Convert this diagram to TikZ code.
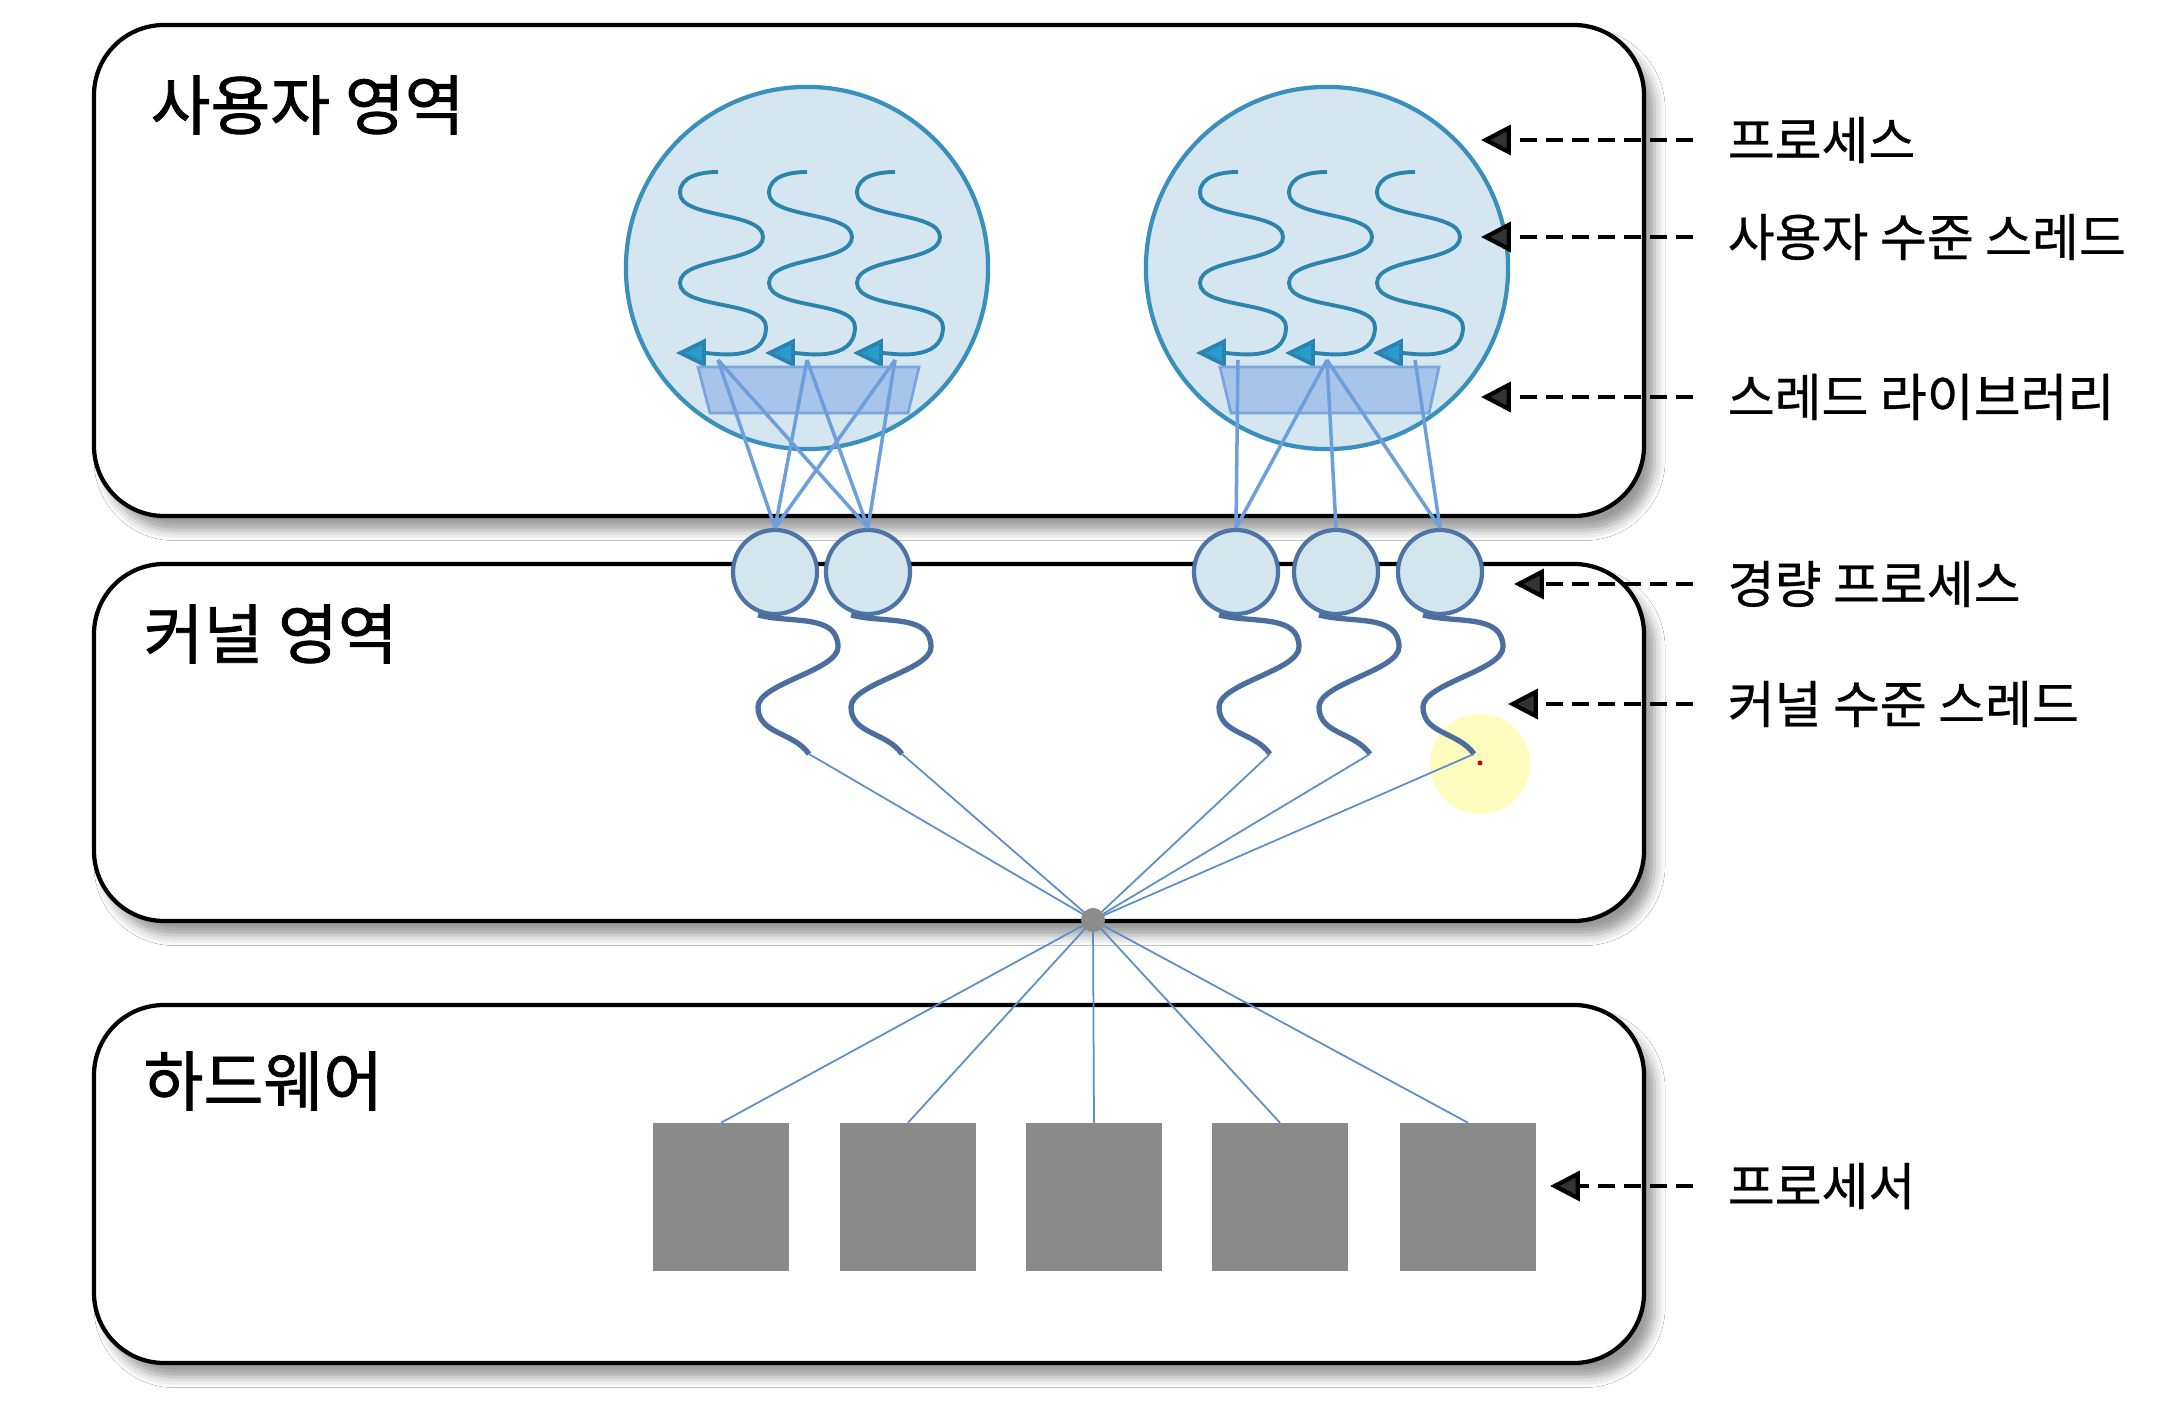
\documentclass[tikz,border=0pt]{standalone}
\usepackage{fontspec}
\newfontfamily\krfont[FakeBold=0.6]{Noto Sans CJK KR}
\newfontfamily\krtitle[FakeBold=1.2]{Noto Sans CJK KR}
\usepackage{tikz}
\usetikzlibrary{arrows.meta, positioning, shadows.blur}
\usepackage{xcolor}

\definecolor{procfill}{HTML}{D6E6F1}
\definecolor{procline}{HTML}{3A90BC}
\definecolor{uthreadc}{HTML}{2B84AE}
\definecolor{utip}{HTML}{2A9BD0}
\definecolor{libfill}{HTML}{A7C5EA}
\definecolor{libline}{HTML}{78A6DD}
\definecolor{linkc}{HTML}{6C9FDC}
\definecolor{lwpfill}{HTML}{D3E6EE}
\definecolor{lwpline}{HTML}{4E74A6}
\definecolor{kthreadc}{HTML}{4B6E9F}
\definecolor{wirec}{HTML}{5C8FC9}
\definecolor{cpugray}{HTML}{8A8A8A}

\begin{document}
\begin{tikzpicture}[
      x=0.01cm, y=0.01cm,
      region/.style={line width=1.2pt, rounded corners=0.7cm, fill=white,
        blur shadow={shadow xshift=3pt, shadow yshift=-4pt, shadow blur radius=3pt, shadow opacity=40}},
      areatitle/.style={anchor=west, inner sep=0, font=\krtitle\fontsize{18.5pt}{22pt}\selectfont},
      note/.style={anchor=west, inner xsep=0.34cm, inner ysep=0, font=\krfont\fontsize{14.5pt}{17pt}\selectfont},
      proc/.style={circle, draw=procline, line width=1.2pt, fill=procfill, minimum size=3.62cm, inner sep=0},
      uline/.style={draw=uthreadc, line width=1.1pt, -{Triangle[length=8.5pt, width=8pt, fill=utip]}},
      lib/.style={draw=libline, line width=0.8pt, fill=libfill},
      link/.style={draw=linkc, line width=1pt},
      lwp/.style={circle, draw=lwpline, line width=1.2pt, fill=lwpfill, minimum size=0.84cm, inner sep=0},
      kline/.style={draw=kthreadc, line width=1.5pt},
      wire/.style={draw=wirec, line width=0.5pt},
      hub/.style={circle, fill=gray!90, minimum size=0.24cm, inner sep=0},
      cpu/.style={rectangle, fill=cpugray, minimum width=1.36cm, minimum height=1.47cm, inner sep=0},
      callout/.style={line width=1.2pt, dash pattern=on 4.8pt off 2.6pt, -{Triangle[length=8.5pt, width=8.5pt]}},
      uthread/.pic={
        \draw[uline] (0,0) to[out=180,in=90] (-38,-21) to[out=-90,in=90,looseness=0.7] (45,-65)
          to[out=-90,in=90,looseness=0.7] (-38,-111) to[out=-90,in=90,looseness=0.7] (48,-155)
          to[out=-90,in=0] (-42,-181);
        \coordinate (-foot) at (0,-188);
      },
      kthread/.pic={
        \draw[kline] (-17,-43) to[out=-15,in=90] (63,-75) to[out=-90,in=90,looseness=0.6] (-17,-135)
          to[out=-90,in=125] (34,-182);
        \coordinate (-end) at (34,-182);
      }
    ]
    \useasboundingbox[fill=white] (0,0) rectangle (2162,1402);

    % Regions
    \draw[region] (94, 886) rectangle (1644, 1377);
    \draw[region] (94, 481) rectangle (1644, 838);
    \draw[region] (94, 39) rectangle (1644, 397);
    \node[areatitle] (usertitle) at (150, 1297) {사용자 영역};
    \node[areatitle] (kerneltitle) at (143, 768) {커널 영역};
    \node[areatitle] (hwtitle) at (143, 321) {하드웨어};

    % Processes and user level threads
    \node[proc] (proc1) at (807, 1134) {};
    \node[proc] (proc2) at (1327, 1134) {};
    \pic (u1) at (718, 1230) {uthread};
    \pic (u2) at (807, 1230) {uthread};
    \pic (u3) at (895, 1230) {uthread};
    \pic (u4) at (1238, 1230) {uthread};
    \pic (u5) at (1327, 1230) {uthread};
    \pic (u6) at (1415, 1230) {uthread};

    % Thread libraries
    \draw[lib] (698, 1035) -- (919, 1035) -- (908, 989) -- (710, 989) -- cycle;
    \draw[lib] (1220, 1035) -- (1439, 1035) -- (1429, 989) -- (1231, 989) -- cycle;

    % Light weight processes
    \node[lwp] (lwp1) at (775, 830) {};
    \node[lwp] (lwp2) at (868, 830) {};
    \node[lwp] (lwp3) at (1236, 830) {};
    \node[lwp] (lwp4) at (1336, 830) {};
    \node[lwp] (lwp5) at (1440, 830) {};

    % Library to LWP
    \draw[link] (u1-foot) -- (lwp1.north);
    \draw[link] (u1-foot) -- (lwp2.north);
    \draw[link] (u2-foot) -- (lwp1.north);
    \draw[link] (u2-foot) -- (lwp2.north);
    \draw[link] (u3-foot) -- (lwp1.north);
    \draw[link] (u3-foot) -- (lwp2.north);
    \draw[link] (u4-foot) -- (lwp3.north);
    \draw[link] (u5-foot) -- (lwp3.north);
    \draw[link] (u5-foot) -- (lwp4.north);
    \draw[link] (u5-foot) -- (lwp5.north);
    \draw[link] (u6-foot) -- (lwp5.north);

    % Kernel level threads
    \fill[yellow!25] (1480, 638) circle (50);
    \pic (k1) at (lwp1.center) {kthread};
    \pic (k2) at (lwp2.center) {kthread};
    \pic (k3) at (lwp3.center) {kthread};
    \pic (k4) at (lwp4.center) {kthread};
    \pic (k5) at (lwp5.center) {kthread};
    \fill[red!80!black] (1480, 639) circle (2.5);

    % Processors
    \coordinate (hubpt) at (1093, 482);
    \node[cpu] (cpu1) at (721, 205) {};
    \node[cpu] (cpu2) at (908, 205) {};
    \node[cpu] (cpu3) at (1094, 205) {};
    \node[cpu] (cpu4) at (1280, 205) {};
    \node[cpu] (cpu5) at (1468, 205) {};
    \draw[wire] (k1-end) -- (hubpt);
    \draw[wire] (k2-end) -- (hubpt);
    \draw[wire] (k3-end) -- (hubpt);
    \draw[wire] (k4-end) -- (hubpt);
    \draw[wire] (k5-end) -- (hubpt);
    \draw[wire] (hubpt) -- (cpu1.north);
    \draw[wire] (hubpt) -- (cpu2.north);
    \draw[wire] (hubpt) -- (cpu3.north);
    \draw[wire] (hubpt) -- (cpu4.north);
    \draw[wire] (hubpt) -- (cpu5.north);
    \node[hub] (hub) at (hubpt) {};

    % Labels
    \node[note] (nproc) at (1693, 1262) {프로세스};
    \node[note] (nuthread) at (1693, 1165) {사용자 수준 스레드};
    \node[note] (nlib) at (1693, 1005) {스레드 라이브러리};
    \node[note] (nlwp) at (1693, 818) {경량 프로세스};
    \node[note] (nkthread) at (1693, 698) {커널 수준 스레드};
    \node[note] (ncpu) at (1693, 216) {프로세서};
    \coordinate (tproc) at (1481, 1262);
    \coordinate (tuthread) at (1481, 1165);
    \coordinate (tlib) at (1481, 1005);
    \coordinate (tlwp) at (1514, 818);
    \coordinate (tkthread) at (1508, 698);
    \coordinate (tcpu) at (1550, 216);

    % Arrows
    \draw[callout] (nproc.west) -- (tproc);
    \draw[callout] (nuthread.west) -- (tuthread);
    \draw[callout] (nlib.west) -- (tlib);
    \draw[callout] (nlwp.west) -- (tlwp);
    \draw[callout] (nkthread.west) -- (tkthread);
    \draw[callout] (ncpu.west) -- (tcpu);
  \end{tikzpicture}
\end{document}
